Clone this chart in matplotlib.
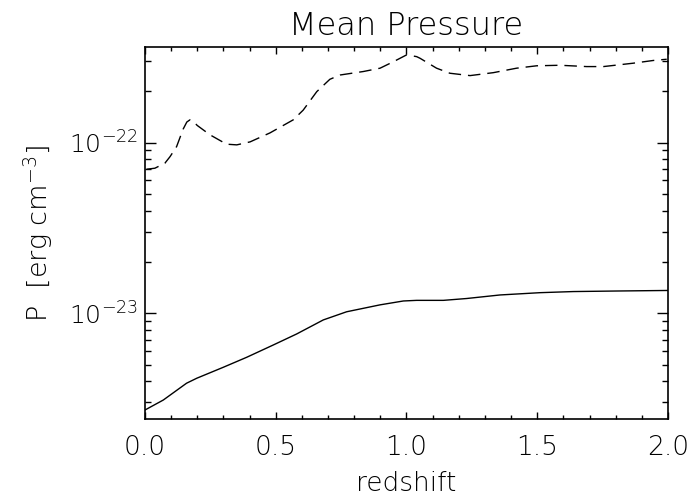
import matplotlib
matplotlib.use("Agg")
import matplotlib.pyplot as plt
from matplotlib.ticker import LogLocator, MultipleLocator, NullFormatter, FixedLocator

# Mean gas pressure vs redshift (dashed: upper curve, solid: lower curve)
z_dashed = [0.006, 0.038, 0.076, 0.096, 0.121, 0.146, 0.160, 0.172, 0.185, 0.200,
            0.249, 0.312, 0.351, 0.402, 0.478, 0.567, 0.605, 0.657, 0.707, 0.746,
            0.835, 0.899, 0.950, 1.001, 1.039, 1.052, 1.115, 1.166, 1.243, 1.332,
            1.421, 1.498, 1.587, 1.689, 1.753, 1.867, 1.944, 1.995]
p_dashed = [6.98e-23, 7.08e-23, 7.57e-23, 8.28e-23, 9.48e-23, 1.20e-22, 1.32e-22,
            1.36e-22, 1.33e-22, 1.26e-22, 1.11e-22, 9.79e-23, 9.70e-23, 1.01e-22,
            1.14e-22, 1.36e-22, 1.55e-22, 1.99e-22, 2.35e-22, 2.49e-22, 2.61e-22,
            2.73e-22, 2.98e-22, 3.27e-22, 3.19e-22, 3.12e-22, 2.73e-22, 2.55e-22,
            2.47e-22, 2.57e-22, 2.73e-22, 2.82e-22, 2.84e-22, 2.79e-22, 2.79e-22,
            2.92e-22, 3.03e-22, 3.08e-22]

z_solid = [0.0, 0.070, 0.159, 0.198, 0.299, 0.389, 0.491, 0.580, 0.682, 0.771,
           0.899, 0.988, 1.039, 1.141, 1.230, 1.358, 1.511, 1.638, 1.804, 2.0]
p_solid = [2.71e-24, 3.10e-24, 3.89e-24, 4.16e-24, 4.82e-24, 5.52e-24, 6.52e-24,
           7.56e-24, 9.14e-24, 1.02e-23, 1.12e-23, 1.18e-23, 1.19e-23, 1.19e-23,
           1.22e-23, 1.28e-23, 1.32e-23, 1.34e-23, 1.35e-23, 1.36e-23]

x_ticks = [0.0, 0.5, 1.0, 1.5, 2.0]
x_ticklabels = ["0.0", "0.5", "1.0", "1.5", "2.0"]
y_ticks = [1e-23, 1e-22]
y_ticklabels = [r"$10^{-23}$", r"$10^{-22}$"]

plt.rcParams["font.family"] = ["DejaVu Sans"]
plt.rcParams["font.weight"] = "light"
plt.rcParams["axes.titleweight"] = "light"
plt.rcParams["axes.labelweight"] = "light"
plt.rcParams["mathtext.fontset"] = "custom"
plt.rcParams["mathtext.rm"] = "DejaVu Sans:light"
plt.rcParams["mathtext.it"] = "DejaVu Sans:light"
plt.rcParams["mathtext.default"] = "rm"

fig = plt.figure(figsize=(6.91, 5.03), dpi=100)
ax = fig.add_axes([0.2098, 0.1676, 0.9667 - 0.2098, 0.9056 - 0.1676])

ax.plot(z_dashed, p_dashed, color="black", lw=1.0, dashes=(9, 5))
ax.plot(z_solid, p_solid, color="black", lw=1.0)

ax.set_yscale("log")
ax.set_xlim(0, 2.0)
ax.set_ylim(2.41e-24, 3.61e-22)

ax.xaxis.set_major_locator(FixedLocator(x_ticks))
ax.set_xticklabels(x_ticklabels)
ax.xaxis.set_minor_locator(MultipleLocator(0.1))
ax.yaxis.set_major_locator(FixedLocator(y_ticks))
ax.set_yticklabels(y_ticklabels)
ax.yaxis.set_minor_locator(LogLocator(base=10, subs=range(2, 10), numticks=20))
ax.yaxis.set_minor_formatter(NullFormatter())

ax.tick_params(axis="both", which="both", direction="in", top=True, right=True,
               color="black", labelcolor="black")
ax.tick_params(axis="x", which="major", length=5, width=1.0, pad=12, labelsize=19)
ax.tick_params(axis="x", which="minor", length=2.7, width=1.0)
ax.tick_params(axis="y", which="major", length=8, width=1.0, pad=5, labelsize=18)
ax.tick_params(axis="y", which="minor", length=4, width=1.0)

for s in ax.spines.values():
    s.set_linewidth(1.2)
    s.set_color("black")

ax.set_title("Mean Pressure", fontsize=23, pad=9)
ax.set_xlabel("redshift", fontsize=19, labelpad=8)
ax.set_ylabel(r"P  [erg cm$^{-3}$]", fontsize=19.5, labelpad=10)

fig.savefig("out.png", dpi=100)
